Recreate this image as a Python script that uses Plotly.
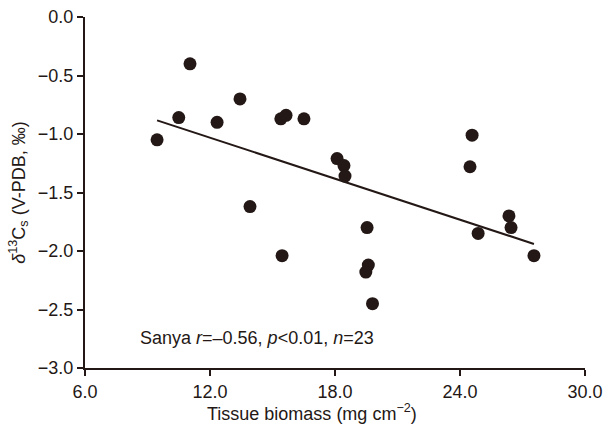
import numpy as np
import plotly.graph_objects as go

biomass = [9.46, 10.5, 11.04, 12.34, 13.44, 13.92, 15.4, 15.65, 15.46, 16.51,
           18.1, 18.43, 18.48, 19.54, 19.6, 19.48, 19.8, 24.58, 24.48, 24.87,
           26.35, 26.45, 27.55]
d13c = [-1.05, -0.86, -0.40, -0.90, -0.70, -1.62, -0.87, -0.84, -2.04, -0.87,
        -1.21, -1.27, -1.36, -1.80, -2.12, -2.18, -2.45, -1.01, -1.28, -1.85,
        -1.70, -1.80, -2.04]
x_ticks = [6.0, 12.0, 18.0, 24.0, 30.0]
y_ticks = [0.0, -0.5, -1.0, -1.5, -2.0, -2.5, -3.0]

ink = "#231815"
font = "Liberation Sans, Arial, sans-serif"

slope, intercept = np.polyfit(biomass, d13c, 1)
xfit = np.array([min(biomass), max(biomass)])
yfit = slope * xfit + intercept

fig = go.Figure()
fig.add_trace(go.Scatter(x=xfit, y=yfit, mode="lines",
                         line=dict(color=ink, width=2), showlegend=False))
fig.add_trace(go.Scatter(x=biomass, y=d13c, mode="markers",
                         marker=dict(color=ink, size=13, line=dict(width=0)),
                         showlegend=False))

def fmt(v):
    s = f"{abs(v):.1f}"
    return ("\u2212" + s) if v < 0 else s

fig.update_layout(
    width=603, height=430,
    margin=dict(l=85, r=18, t=17, b=62),
    paper_bgcolor="white", plot_bgcolor="white",
    font=dict(family=font, size=18, color=ink),
    xaxis=dict(range=[6, 30], tickvals=x_ticks, ticktext=[f"{v:.1f}" for v in x_ticks],
               showline=True, linecolor=ink, linewidth=2, ticks="outside",
               ticklen=6, tickwidth=2, tickcolor=ink, showgrid=False, zeroline=False,
               tickfont=dict(size=18), automargin=False),
    yaxis=dict(range=[-3, 0], tickvals=y_ticks, ticktext=[fmt(v) for v in y_ticks],
               showline=True, linecolor=ink, linewidth=2, ticks="outside",
               ticklen=6, tickwidth=2, tickcolor=ink, showgrid=False, zeroline=False,
               tickfont=dict(size=18), automargin=False,
               title=dict(text="<i>\u03b4</i><sup>13</sup>C<sub>s</sub> (V-PDB, \u2030)",
                          standoff=8, font=dict(size=18))),
)
fig.add_annotation(x=0.454, y=-0.128, xref="paper", yref="paper", xanchor="center",
                   yanchor="middle", showarrow=False,
                   text="Tissue biomass (mg cm<sup>\u22122</sup>)",
                   font=dict(size=18, color=ink, family=font))
fig.add_annotation(x=0.105, y=0.085, xref="paper", yref="paper", xanchor="left",
                   yanchor="middle", showarrow=False,
                   text="Sanya <i>r</i>=\u20130.56, <i>p</i><0.01, <i>n</i>=23",
                   font=dict(size=18, color=ink, family=font))
fig.write_html("out.html")
